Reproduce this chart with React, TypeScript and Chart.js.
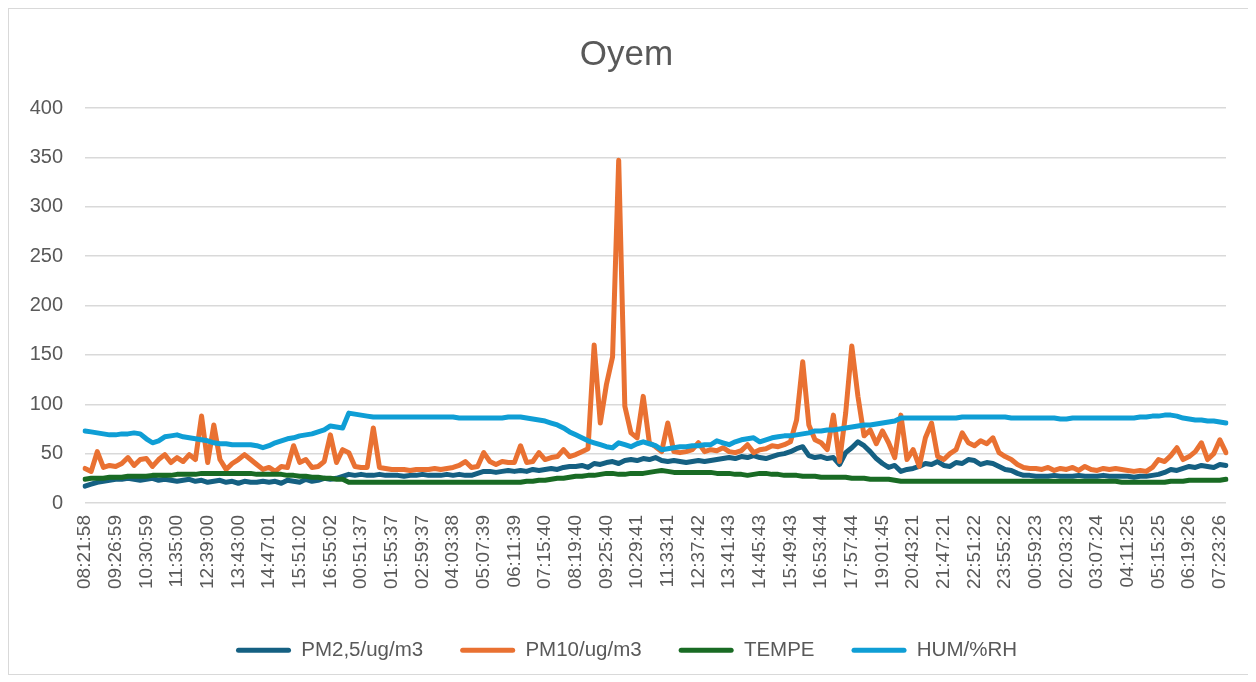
import React, { useEffect, useRef } from "react";
import { Chart, registerables } from "chart.js";

Chart.register(...registerables);

const timeLabels: string[] = [
  "08:21:58", "09:26:59", "10:30:59", "11:35:00", "12:39:00", "13:43:00", "14:47:01", "15:51:02",
  "16:55:02", "00:51:37", "01:55:37", "02:59:37", "04:03:38", "05:07:39", "06:11:39", "07:15:40",
  "08:19:40", "09:25:40", "10:29:41", "11:33:41", "12:37:42", "13:41:43", "14:45:43", "15:49:43",
  "16:53:44", "17:57:44", "19:01:45", "20:43:21", "21:47:21", "22:51:22", "23:55:22", "00:59:23",
  "02:03:23", "03:07:24", "04:11:25", "05:15:25", "06:19:26", "07:23:26",
];
const samplesPerLabel = 5;

const pm25: number[] = [
  17, 19, 21, 22, 23, 24, 24, 25, 24, 23,
  24, 25, 23, 24, 23, 22, 23, 24, 22, 23,
  21, 22, 23, 21, 22, 20, 22, 21, 21, 22,
  21, 22, 20, 23, 22, 21, 24, 22, 23, 25,
  24, 25, 27, 29, 28, 29, 28, 28, 29, 28,
  28, 28, 27, 28, 28, 29, 28, 28, 28, 29,
  28, 29, 28, 28, 30, 32, 32, 31, 32, 33,
  32, 33, 32, 34, 33, 34, 35, 34, 36, 37,
  37, 38, 36, 40, 39, 41, 42, 40, 43, 44,
  43, 45, 44, 46, 43, 42, 43, 42, 41, 42,
  43, 42, 43, 44, 45, 46, 45, 47, 46, 48,
  46, 45, 47, 49, 50, 52, 55, 57, 48, 46,
  47, 45, 46, 39, 51, 56, 62, 58, 52, 45,
  40, 36, 38, 32, 34, 35, 37, 40, 39, 42,
  38, 37, 41, 40, 44, 43, 39, 41, 40, 37,
  34, 33, 30, 28, 28, 27, 27, 27, 28, 27,
  27, 27, 28, 27, 27, 27, 28, 27, 27, 27,
  27, 26, 27, 27, 28, 29, 31, 34, 33, 35,
  37, 36, 38, 37, 36, 39, 38,
];

const pm10: number[] = [
  35, 32, 52, 36, 38, 37, 40, 46, 38, 44,
  45, 37, 44, 49, 41, 46, 42, 49, 44, 88,
  41, 79, 44, 34, 40, 44, 49, 44, 39, 34,
  36, 32, 37, 36, 58, 41, 44, 36, 37, 42,
  69, 41, 54, 51, 37, 36, 36, 76, 36, 35,
  34, 34, 34, 33, 34, 34, 34, 35, 34, 35,
  36, 38, 42, 36, 37, 51, 42, 39, 42, 41,
  41, 58, 41, 42, 51, 44, 46, 47, 54, 47,
  49, 52, 55, 160, 81, 120, 148, 347, 98, 71,
  66, 108, 61, 57, 52, 81, 52, 51, 52, 54,
  61, 52, 54, 53, 56, 52, 51, 53, 59, 51,
  54, 55, 58, 57, 59, 62, 84, 143, 79, 64,
  61, 54, 89, 42, 91, 159, 108, 68, 74, 60,
  73, 61, 46, 89, 44, 54, 37, 66, 81, 47,
  44, 50, 54, 71, 61, 58, 63, 60, 66, 51,
  47, 44, 39, 36, 35, 35, 34, 36, 33, 35,
  34, 36, 33, 37, 34, 33, 35, 34, 35, 34,
  33, 32, 33, 32, 36, 44, 42, 48, 56, 44,
  47, 52, 61, 44, 50, 64, 51,
];

const tempe: number[] = [
  24, 25, 25, 25, 26, 26, 26, 27, 27, 27,
  27, 28, 28, 28, 28, 29, 29, 29, 29, 30,
  30, 30, 30, 30, 30, 30, 30, 30, 29, 29,
  29, 29, 29, 28, 28, 27, 27, 26, 26, 25,
  25, 24, 24, 21, 21, 21, 21, 21, 21, 21,
  21, 21, 21, 21, 21, 21, 21, 21, 21, 21,
  21, 21, 21, 21, 21, 21, 21, 21, 21, 21,
  21, 21, 22, 22, 23, 23, 24, 25, 25, 26,
  27, 27, 28, 28, 29, 30, 30, 29, 29, 30,
  30, 30, 31, 32, 33, 32, 31, 31, 31, 31,
  31, 31, 31, 30, 30, 30, 29, 29, 28, 29,
  30, 30, 29, 29, 28, 28, 28, 27, 27, 27,
  26, 26, 26, 26, 26, 25, 25, 25, 24, 24,
  24, 24, 23, 22, 22, 22, 22, 22, 22, 22,
  22, 22, 22, 22, 22, 22, 22, 22, 22, 22,
  22, 22, 22, 22, 22, 22, 22, 22, 22, 22,
  22, 22, 22, 22, 22, 22, 22, 22, 22, 21,
  21, 21, 21, 21, 21, 21, 21, 22, 22, 22,
  23, 23, 23, 23, 23, 23, 24,
];

const hum: number[] = [
  73, 72, 71, 70, 69, 69, 70, 70, 71, 70,
  65, 61, 63, 67, 68, 69, 67, 66, 65, 64,
  63, 61, 60, 60, 59, 59, 59, 59, 58, 56,
  58, 61, 63, 65, 66, 68, 69, 70, 72, 74,
  78, 77, 76, 91, 90, 89, 88, 87, 87, 87,
  87, 87, 87, 87, 87, 87, 87, 87, 87, 87,
  87, 86, 86, 86, 86, 86, 86, 86, 86, 87,
  87, 87, 86, 85, 84, 83, 81, 79, 76, 72,
  69, 66, 63, 61, 59, 57, 56, 61, 59, 57,
  60, 62, 60, 58, 54, 55, 56, 57, 57, 58,
  58, 59, 59, 63, 61, 59, 62, 64, 65, 66,
  62, 64, 66, 67, 68, 68, 69, 70, 71, 73,
  73, 74, 74, 75, 76, 77, 78, 79, 79, 80,
  81, 82, 83, 86, 86, 86, 86, 86, 86, 86,
  86, 86, 86, 87, 87, 87, 87, 87, 87, 87,
  87, 86, 86, 86, 86, 86, 86, 86, 86, 85,
  85, 86, 86, 86, 86, 86, 86, 86, 86, 86,
  86, 86, 87, 87, 88, 88, 89, 89, 88, 86,
  85, 84, 84, 83, 83, 82, 81,
];

const seriesNames = ["PM2,5/ug/m3", "PM10/ug/m3", "TEMPE", "HUM/%RH"];
const seriesColors = ["#156082", "#E97132", "#196B24", "#0F9ED5"];
const yTicks = { min: 0, max: 400, step: 50 };

const TEXT = "#595959";
const GRID = "#D9D9D9";
const FONT = "'Liberation Sans', Arial, sans-serif";

export default function App() {
  const ref = useRef<HTMLCanvasElement | null>(null);

  useEffect(() => {
    if (!ref.current) return;
    const n = pm25.length;
    const labels: string[] = [];
    for (let i = 0; i < n; i++) {
      const j = i / samplesPerLabel;
      labels.push(i % samplesPerLabel === 0 && timeLabels[j] ? timeLabels[j] : "");
    }
    const series = [pm25, pm10, tempe, hum];
    const datasets = series.map((data, k) => ({
      label: seriesNames[k],
      data,
      borderColor: seriesColors[k],
      backgroundColor: seriesColors[k],
      borderWidth: 5,
      pointRadius: 0,
      tension: 0,
      fill: false,
      borderJoinStyle: "round" as const,
      borderCapStyle: "round" as const,
      order: 3 - k,
    }));

    const chart = new Chart(ref.current, {
      type: "line",
      data: { labels, datasets },
      options: {
        animation: false,
        responsive: false,
        devicePixelRatio: 1,
        layout: { padding: { left: 18, right: 22, top: 0, bottom: 3.5 } },
        plugins: {
          title: {
            display: true,
            text: "Oyem",
            color: TEXT,
            font: { family: FONT, size: 35, weight: "normal" },
            padding: { top: 25, bottom: 32 },
          },
          legend: {
            position: "bottom",
            labels: {
              color: TEXT,
              font: { family: FONT, size: 20.5 },
              boxWidth: 55,
              boxHeight: 5,
              useBorderRadius: true,
              borderRadius: 2.5,
              padding: 37,
              sort: (a: any, b: any) => a.datasetIndex - b.datasetIndex,
              generateLabels: (c: any) =>
                Chart.defaults.plugins.legend.labels.generateLabels(c).map((l: any) => ({ ...l, lineWidth: 0 })),
            },
          },
          tooltip: { enabled: false },
        },
        scales: {
          x: {
            type: "category",
            grid: { display: false, drawTicks: false },
            border: { display: false },
            ticks: {
              autoSkip: false,
              maxRotation: 90,
              minRotation: 90,
              padding: 12,
              color: TEXT,
              font: { family: FONT, size: 19 },
            },
            afterFit: (s: any) => {
              s.height = 100;
              s.paddingLeft = 0;
              s.paddingRight = 0;
            },
          },
          y: {
            min: yTicks.min,
            max: yTicks.max,
            grid: { color: GRID, lineWidth: 1.5, drawTicks: false },
            border: { display: false },
            ticks: {
              stepSize: yTicks.step,
              padding: 22,
              color: TEXT,
              font: { family: FONT, size: 20 },
            },
            afterFit: (s: any) => {
              s.width = 58;
            },
          },
        },
      },
    });
    return () => chart.destroy();
  }, []);

  return (
    <div
      style={{
        width: 1241,
        height: 667,
        border: "1px solid #D9D9D9",
        boxSizing: "border-box",
        background: "#fff",
      }}
    >
      <canvas ref={ref} width={1239} height={665} style={{ display: "block" }} />
    </div>
  );
}
